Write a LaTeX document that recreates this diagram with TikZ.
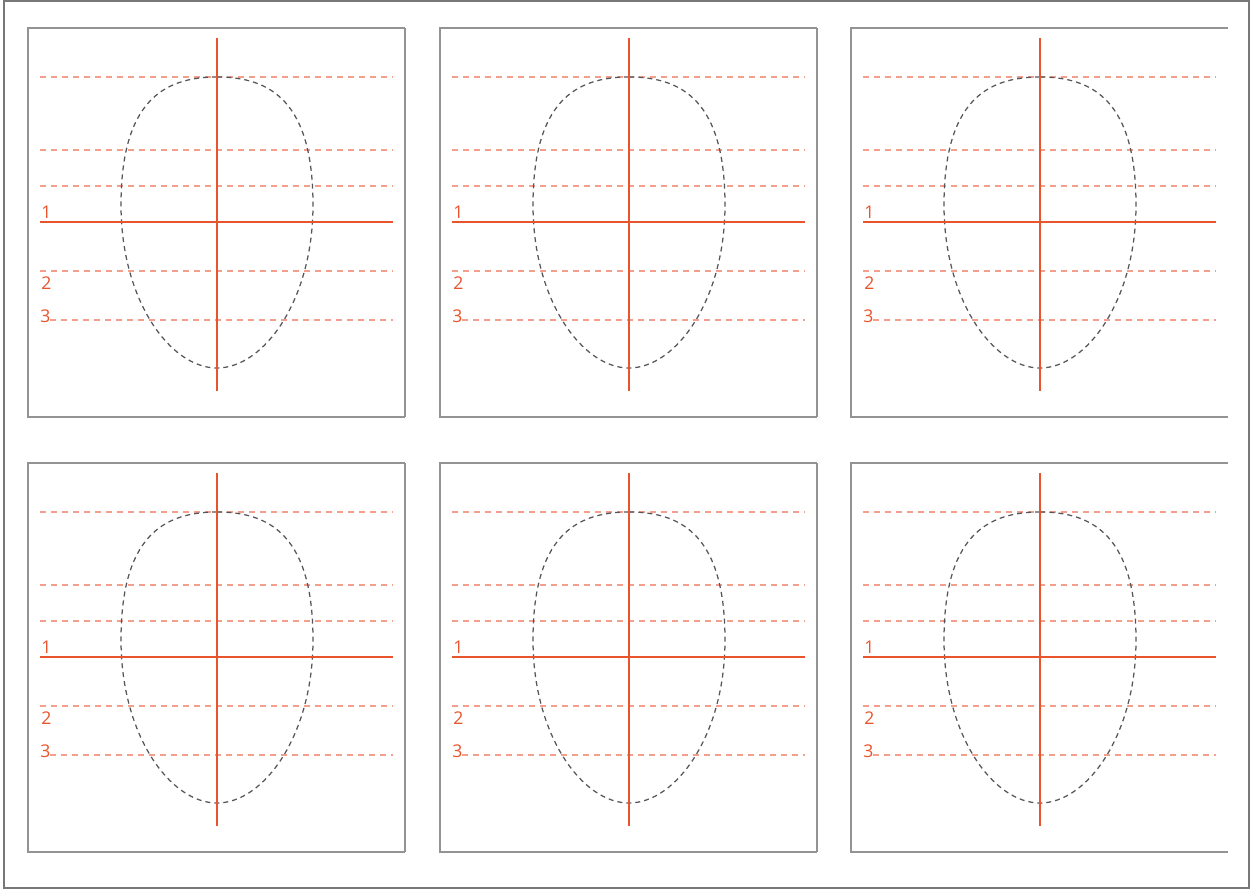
\documentclass[tikz,border=0pt]{standalone}
\usepackage{fontspec}
\setsansfont{Open Sans}
\definecolor{guideRed}{RGB}{232, 84, 44}
\definecolor{guidePink}{RGB}{244, 158, 140}
\definecolor{frameGray}{RGB}{120, 120, 120}
\definecolor{eggGray}{RGB}{85, 85, 90}
\usetikzlibrary{positioning, calc}

\begin{document}
\begin{tikzpicture}[x=0.2mm, y=-0.2mm,
    panelbox/.style={draw=frameGray!80, line width=0.3mm},
    mainline/.style={draw=guideRed, line width=0.4mm},
    helpline/.style={draw=guidePink, line width=0.25mm, dash pattern=on 1.2mm off 1mm},
    eggline/.style={draw=eggGray, line width=0.25mm, dash pattern=on 1mm off 0.8mm},
    numlabel/.style={text=guideRed, font=\sffamily\fontsize{10}{11}\selectfont, inner sep=0pt}]
        % Page frame
        \useasboundingbox (0,0) rectangle (1251,890);
        \draw[draw=frameGray, line width=0.5mm] (4,1) rectangle (1249,888);

        % Six face templates
        \foreach \ox/\oy/\k in {28/28/a, 440/28/b, 851/28/c, 28/463/d, 440/463/e, 851/463/f} {
          \begin{scope}[shift={(\ox,\oy)}]
            % frame (open on the right for the last column)
            \draw[panelbox] (377,0) -- (0,0) -- (0,389) -- (377,389);

            % light guide lines
            \foreach \gx/\gy in {12/49, 12/122, 12/158, 12/243, 22/292}
              \draw[helpline] (\gx,\gy) -- (365,\gy);

            % egg outline
            \draw[eggline] (189,49) .. controls (135,49) and (93,74) .. (93,177)
                  .. controls (93,272) and (142,340) .. (189,340)
                  .. controls (236,340) and (285,272) .. (285,177)
                  .. controls (285,74) and (243,49) .. (189,49);

            % centre cross
            \coordinate (top-\k) at (189,10);
            \coordinate (bot-\k) at (189,363);
            \coordinate (left-\k) at (12,194);
            \coordinate (right-\k) at (365,194);
            \draw[mainline] (top-\k) -- (bot-\k);
            \draw[mainline] (left-\k) -- (right-\k);

            % numbers
            \node[numlabel, anchor=base west] (one-\k) at (13,190) {1};
            \node[numlabel, anchor=west] (two-\k) at (13,255) {2};
            \node[numlabel, anchor=west] (three-\k) at (12,288) {3};
          \end{scope}
        }

        % right edges of the first two columns
        \foreach \ox/\oy in {28/28, 440/28, 28/463, 440/463}
          \draw[panelbox] (\ox+377,\oy) -- (\ox+377,\oy+389);
\end{tikzpicture}
\end{document}
